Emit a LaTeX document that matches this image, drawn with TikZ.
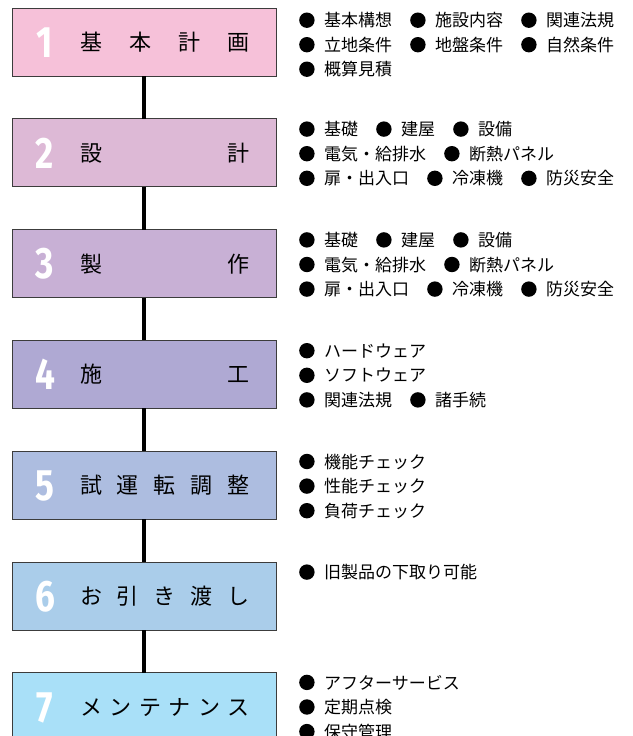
\documentclass[tikz,border=0pt]{standalone}
\usepackage{fontspec}
\newfontfamily\jp{Noto Sans CJK JP}
\newfontfamily\numf{Fira Sans}
\newcommand\bu{\hspace{1pt}\tikz[baseline=0pt]\fill[black] (7.7pt,6.6pt) circle[radius=7.7pt];\hspace{9.6pt}}
\definecolor{c1}{RGB}{246,193,217}
\definecolor{c2}{RGB}{221,185,214}
\definecolor{c3}{RGB}{200,176,213}
\definecolor{c4}{RGB}{175,169,211}
\definecolor{c5}{RGB}{173,189,224}
\definecolor{c6}{RGB}{170,205,234}
\definecolor{c7}{RGB}{169,224,248}
\definecolor{edge}{RGB}{60,60,60}
\tikzset{
  stage/.style={draw=edge, line width=0.9pt, minimum width=264pt, minimum height=68pt, inner sep=0pt, outer sep=0pt},
  num/.style={anchor=base, inner sep=0pt, text=white, font=\numf\bfseries\fontsize{44}{44}\selectfont},
  lab/.style={anchor=base, inner sep=0pt, font=\jp\fontsize{22}{22}\selectfont},
  item/.style={anchor=base west, inner sep=0pt, font=\jp\fontsize{17}{17}\selectfont},
  conn/.style={line width=4.5pt, black}
}
\begin{document}
\begin{tikzpicture}[x=1pt,y=-1pt]
\useasboundingbox (0,0) rectangle (632,736);
% boxes
\foreach \i in {1,...,7}{
  \pgfmathsetmacro{\cy}{42+(\i-1)*110.8}
  \node[stage, fill=c\i] (b\i) at (144,\cy) {};
  \node[num] (n\i) at (45,\cy+15.2) {\scalebox{0.8}[1]{\i}};
}
% connectors
\foreach \i [evaluate=\i as \j using int(\i+1)] in {1,...,6}{
  \draw[conn] (b\i.south) -- (b\j.north);
}
% box labels
\foreach \ch [count=\k] in {基,本,計,画}
  \node[lab] (l1\k) at ({91+(\k-1)*147.5/3}, 42+8.4) {\ch};
\node[lab] (l21) at (91, 152.8+8.4) {設};
\node[lab] (l22) at (238.5, 152.8+8.4) {計};
\node[lab] (l31) at (91, 263.6+8.4) {製};
\node[lab] (l32) at (238.5, 263.6+8.4) {作};
\node[lab] (l41) at (91, 374.4+8.4) {施};
\node[lab] (l42) at (238.5, 374.4+8.4) {工};
\foreach \ch [count=\k] in {試,運,転,調,整}
  \node[lab] (l5\k) at ({91+(\k-1)*147.5/4}, 485.2+8.4) {\ch};
\foreach \ch [count=\k] in {お,引,き,渡,し}
  \node[lab] (l6\k) at ({91+(\k-1)*147.5/4}, 596+8.4) {\ch};
\foreach \ch [count=\k] in {メ,ン,テ,ナ,ン,ス}
  \node[lab] (l7\k) at ({91+(\k-1)*147.5/5}, 706.8+8.4) {\ch};
% items
\node[item] (i11) at (298, 20.3+6.5) {\bu 基本構想　\bu 施設内容　\bu 関連法規};
\node[item] (i12) at (298, 44.8+6.5) {\bu 立地条件　\bu 地盤条件　\bu 自然条件};
\node[item] (i13) at (298, 69.3+6.5) {\bu 概算見積};
\node[item] (i21) at (298, 129.2+6.5) {\bu 基礎　\bu 建屋　\bu 設備};
\node[item] (i22) at (298, 153.8+6.5) {\bu 電気・給排水　\bu 断熱パネル};
\node[item] (i23) at (298, 178.4+6.5) {\bu 扉・出入口　\bu 冷凍機　\bu 防災安全};
\node[item] (i31) at (298, 240+6.5) {\bu 基礎　\bu 建屋　\bu 設備};
\node[item] (i32) at (298, 264.6+6.5) {\bu 電気・給排水　\bu 断熱パネル};
\node[item] (i33) at (298, 289.2+6.5) {\bu 扉・出入口　\bu 冷凍機　\bu 防災安全};
\node[item] (i41) at (298, 350.8+6.5) {\bu ハードウェア};
\node[item] (i42) at (298, 375.4+6.5) {\bu ソフトウェア};
\node[item] (i43) at (298, 400+6.5) {\bu 関連法規　\bu 諸手続};
\node[item] (i51) at (298, 461.6+6.5) {\bu 機能チェック};
\node[item] (i52) at (298, 486.2+6.5) {\bu 性能チェック};
\node[item] (i53) at (298, 510.8+6.5) {\bu 負荷チェック};
\node[item] (i61) at (298, 572.2+6.5) {\bu 旧製品の下取り可能};
\node[item] (i71) at (298, 682.5+6.5) {\bu アフターサービス};
\node[item] (i72) at (298, 707.1+6.5) {\bu 定期点検};
\node[item] (i73) at (298, 731.7+6.5) {\bu 保守管理};
\end{tikzpicture}
\end{document}
